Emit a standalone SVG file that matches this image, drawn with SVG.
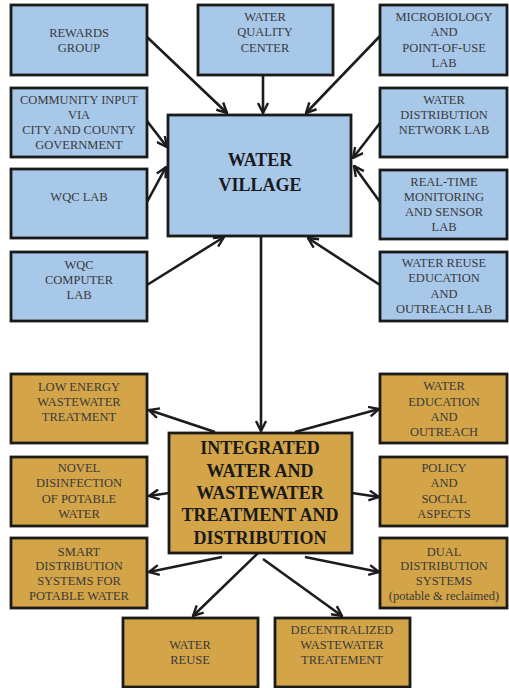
<svg xmlns="http://www.w3.org/2000/svg" width="509" height="688" viewBox="0 0 509 688">
<defs>
<marker id="ah" viewBox="0 0 12 12" refX="11" refY="6" markerWidth="12" markerHeight="12" markerUnits="userSpaceOnUse" orient="auto">
<path d="M1,1 L11,6 L1,11" fill="none" stroke="#1c1c1c" stroke-width="2.4" stroke-linejoin="miter"/>
</marker>
</defs>
<style>
.blue{fill:#a8c8ea;stroke:#1a1a1a;stroke-width:2.8}
.gold{fill:#d4a548;stroke:#1a1a1a;stroke-width:2.8}
.t{font-family:"Liberation Serif","Times New Roman",serif;font-size:12.5px;fill:#3a3a3a;text-anchor:middle}
.h{font-family:"Liberation Serif","Times New Roman",serif;font-size:18px;font-weight:bold;fill:#1a1a1a;text-anchor:middle}
.c{fill:none;stroke:#1c1c1c;stroke-width:2.6;marker-end:url(#ah)}
</style>
<rect width="509" height="688" fill="#ffffff"/>

<g id="connectors">
<line class="c" x1="147" y1="37" x2="227" y2="113"/>
<line class="c" x1="263" y1="75" x2="263" y2="113"/>
<line class="c" x1="380" y1="36" x2="306" y2="113"/>
<line class="c" x1="147" y1="121" x2="167" y2="147"/>
<line class="c" x1="380" y1="123" x2="353" y2="158"/>
<line class="c" x1="147" y1="202" x2="166" y2="167"/>
<line class="c" x1="147" y1="285" x2="224" y2="237"/>
<line class="c" x1="380" y1="202" x2="354" y2="166"/>
<line class="c" x1="380" y1="285" x2="308" y2="238"/>
<line class="c" x1="261" y1="236" x2="261" y2="431"/>
<line class="c" x1="215" y1="432" x2="149" y2="410"/>
<line class="c" x1="169" y1="493" x2="149" y2="496"/>
<line class="c" x1="295" y1="432" x2="379" y2="409"/>
<line class="c" x1="352" y1="493" x2="379" y2="497"/>
<line class="c" x1="222" y1="557" x2="149" y2="572"/>
<line class="c" x1="258" y1="553" x2="193" y2="616"/>
<line class="c" x1="263" y1="559" x2="342" y2="616"/>
<line class="c" x1="305" y1="557" x2="379" y2="572"/>
</g>

<g id="rewards-group"><rect class="blue" x="11" y="5" width="136" height="70"/>
<text class="t" x="79" y="37">REWARDS</text><text class="t" x="79" y="52">GROUP</text></g>

<g id="water-quality-center"><rect class="blue" x="198" y="5" width="135" height="70"/>
<text class="t" x="265" y="21">WATER</text><text class="t" x="265" y="36">QUALITY</text><text class="t" x="265" y="52">CENTER</text></g>

<g id="microbiology-lab"><rect class="blue" x="380" y="5" width="127" height="70"/>
<text class="t" x="444" y="21">MICROBIOLOGY</text><text class="t" x="444" y="36">AND</text><text class="t" x="444" y="52">POINT-OF-USE</text><text class="t" x="444" y="67">LAB</text></g>

<g id="community-input"><rect class="blue" x="11" y="88" width="136" height="69"/>
<text class="t" x="79" y="104">COMMUNITY INPUT</text><text class="t" x="79" y="119">VIA</text><text class="t" x="79" y="134">CITY AND COUNTY</text><text class="t" x="79" y="149">GOVERNMENT</text></g>

<g id="water-distribution-network-lab"><rect class="blue" x="380" y="88" width="127" height="69"/>
<text class="t" x="444" y="104">WATER</text><text class="t" x="444" y="119">DISTRIBUTION</text><text class="t" x="444" y="134">NETWORK LAB</text></g>

<g id="water-village"><rect class="blue" x="168" y="115" width="183" height="121"/>
<text class="h" x="260" y="166">WATER</text><text class="h" x="260" y="191">VILLAGE</text></g>

<g id="wqc-lab"><rect class="blue" x="11" y="169" width="136" height="69"/>
<text class="t" x="79" y="201">WQC LAB</text></g>

<g id="real-time-monitoring"><rect class="blue" x="380" y="170" width="127" height="69"/>
<text class="t" x="444" y="186">REAL-TIME</text><text class="t" x="444" y="201">MONITORING</text><text class="t" x="444" y="216">AND SENSOR</text><text class="t" x="444" y="231">LAB</text></g>

<g id="wqc-computer-lab"><rect class="blue" x="11" y="252" width="136" height="69"/>
<text class="t" x="79" y="269">WQC</text><text class="t" x="79" y="284">COMPUTER</text><text class="t" x="79" y="299">LAB</text></g>

<g id="water-reuse-education"><rect class="blue" x="380" y="252" width="127" height="69"/>
<text class="t" x="444" y="267">WATER REUSE</text><text class="t" x="444" y="282">EDUCATION</text><text class="t" x="444" y="298">AND</text><text class="t" x="444" y="313">OUTREACH LAB</text></g>

<g id="low-energy-wastewater"><rect class="gold" x="11" y="374" width="136" height="69"/>
<text class="t" x="79" y="391">LOW ENERGY</text><text class="t" x="79" y="406">WASTEWATER</text><text class="t" x="79" y="421">TREATMENT</text></g>

<g id="water-education-outreach"><rect class="gold" x="380" y="374" width="127" height="69"/>
<text class="t" x="444" y="390">WATER</text><text class="t" x="444" y="406">EDUCATION</text><text class="t" x="444" y="421">AND</text><text class="t" x="444" y="436">OUTREACH</text></g>

<g id="integrated"><rect class="gold" x="169" y="433" width="183" height="120"/>
<text class="h" x="260" y="454">INTEGRATED</text><text class="h" x="260" y="477">WATER AND</text><text class="h" x="260" y="499">WASTEWATER</text><text class="h" x="260" y="521">TREATMENT AND</text><text class="h" x="260" y="544">DISTRIBUTION</text></g>

<g id="novel-disinfection"><rect class="gold" x="11" y="457" width="136" height="69"/>
<text class="t" x="79" y="472">NOVEL</text><text class="t" x="79" y="487">DISINFECTION</text><text class="t" x="79" y="503">OF POTABLE</text><text class="t" x="79" y="518">WATER</text></g>

<g id="policy-social"><rect class="gold" x="380" y="457" width="127" height="69"/>
<text class="t" x="444" y="472">POLICY</text><text class="t" x="444" y="487">AND</text><text class="t" x="444" y="503">SOCIAL</text><text class="t" x="444" y="518">ASPECTS</text></g>

<g id="smart-distribution"><rect class="gold" x="11" y="538" width="136" height="70"/>
<text class="t" x="79" y="556">SMART</text><text class="t" x="79" y="570">DISTRIBUTION</text><text class="t" x="79" y="585">SYSTEMS FOR</text><text class="t" x="79" y="600">POTABLE WATER</text></g>

<g id="dual-distribution"><rect class="gold" x="380" y="538" width="127" height="70"/>
<text class="t" x="444" y="556">DUAL</text><text class="t" x="444" y="570">DISTRIBUTION</text><text class="t" x="444" y="585">SYSTEMS</text><text class="t" x="444" y="600">(potable &amp; reclaimed)</text></g>

<g id="water-reuse"><rect class="gold" x="123" y="618" width="135" height="69"/>
<text class="t" x="190" y="649">WATER</text><text class="t" x="190" y="664">REUSE</text></g>

<g id="decentralized-wastewater"><rect class="gold" x="275" y="618" width="135" height="69"/>
<text class="t" x="342" y="634">DECENTRALIZED</text><text class="t" x="342" y="649">WASTEWATER</text><text class="t" x="342" y="664">TREATEMENT</text></g>
</svg>
